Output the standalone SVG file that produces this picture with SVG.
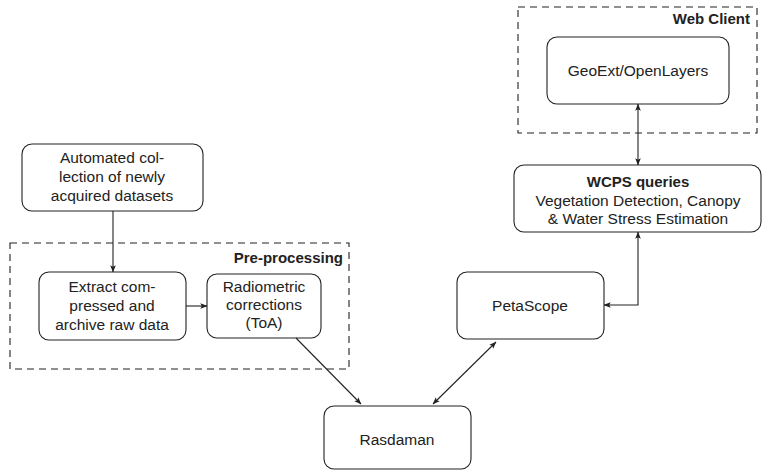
<svg xmlns="http://www.w3.org/2000/svg" width="762" height="472" viewBox="0 0 762 472">
<defs>
<style>
.box{fill:#fff;stroke:#222;stroke-width:1.1}
.grp{fill:none;stroke:#222;stroke-width:1.1;stroke-dasharray:7,5}
.t{font-family:"Liberation Sans",Arial,sans-serif;font-size:15.5px;fill:#222;text-anchor:middle}
.b{font-family:"Liberation Sans",Arial,sans-serif;font-size:15px;font-weight:bold;fill:#222}
.c{fill:none;stroke:#222;stroke-width:1.1}
</style>
<marker id="ah" viewBox="0 0 10 10" refX="9.5" refY="5" markerWidth="7" markerHeight="7" markerUnits="userSpaceOnUse" orient="auto-start-reverse">
<path d="M0,1 L10,5 L0,9 L2,5 Z" fill="#222"/>
</marker>
</defs>
<g id="preprocessing">
<rect class="grp" x="10" y="243" width="339" height="126"/>
<text class="b" x="343" y="263" text-anchor="end">Pre-processing</text>
</g>
<g id="webclient">
<rect class="grp" x="518" y="7" width="239" height="126"/>
<text class="b" x="750" y="24" text-anchor="end">Web Client</text>
</g>
<g id="automated">
<rect class="box" x="22" y="144" width="181" height="67" rx="10"/>
<text class="t" x="112" y="163">Automated col-</text>
<text class="t" x="112" y="182">lection of newly</text>
<text class="t" x="112" y="201">acquired datasets</text>
</g>
<g id="extract">
<rect class="box" x="39" y="272" width="147" height="68" rx="10"/>
<text class="t" x="112" y="292">Extract com-</text>
<text class="t" x="112" y="311">pressed and</text>
<text class="t" x="112" y="330">archive raw data</text>
</g>
<g id="radiometric">
<rect class="box" x="207" y="274" width="114" height="64" rx="10"/>
<text class="t" x="264" y="292">Radiometric</text>
<text class="t" x="264" y="310">corrections</text>
<text class="t" x="264" y="328">(ToA)</text>
</g>
<g id="rasdaman">
<rect class="box" x="324" y="406" width="147" height="63" rx="10"/>
<text class="t" x="397" y="445">Rasdaman</text>
</g>
<g id="petascope">
<rect class="box" x="457" y="272" width="147" height="67" rx="10"/>
<text class="t" x="530" y="311">PetaScope</text>
</g>
<g id="wcps">
<rect class="box" x="514" y="165" width="247" height="67" rx="10"/>
<text class="b" x="638" y="187" text-anchor="middle">WCPS queries</text>
<text class="t" x="638" y="206">Vegetation Detection, Canopy</text>
<text class="t" x="638" y="224">&amp; Water Stress Estimation</text>
</g>
<g id="geoext">
<rect class="box" x="547" y="37" width="182" height="67" rx="10"/>
<text class="t" x="638" y="76">GeoExt/OpenLayers</text>
</g>
<g id="connectors">
<line class="c" x1="113" y1="211" x2="113" y2="272" marker-end="url(#ah)"/>
<line class="c" x1="186" y1="306" x2="207" y2="306" marker-end="url(#ah)"/>
<line class="c" x1="296" y1="338" x2="361" y2="404" marker-end="url(#ah)"/>
<line class="c" x1="433" y1="404" x2="496" y2="342" marker-start="url(#ah)" marker-end="url(#ah)"/>
<polyline class="c" points="638,232 638,305 604,305" marker-start="url(#ah)" marker-end="url(#ah)"/>
<line class="c" x1="638" y1="104" x2="638" y2="165" marker-start="url(#ah)" marker-end="url(#ah)"/>
</g>
</svg>
